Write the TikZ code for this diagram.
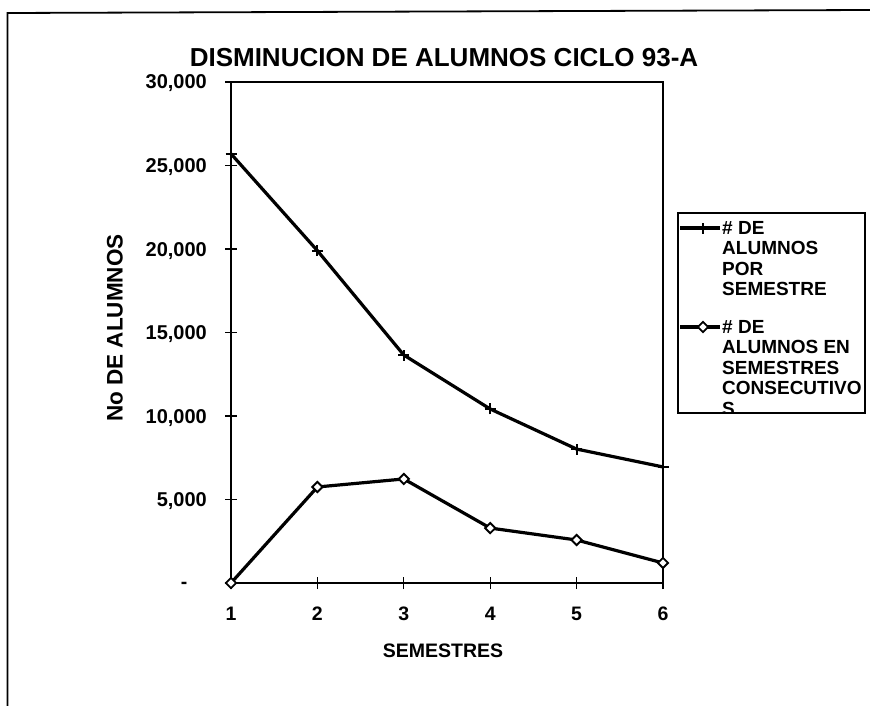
\documentclass[tikz,border=0pt]{standalone}
\usepackage{fontspec}
\setmainfont{Liberation Sans}
\usetikzlibrary{shapes.geometric}
\begin{document}
\begin{tikzpicture}[x=1pt,y=-1pt,
  every node/.style={inner sep=0pt},
  lbl/.style={font=\fontsize{19.5}{20}\selectfont\bfseries},
  ticklbl/.style={font=\fontsize{20}{20}\selectfont\bfseries, anchor=base east},
  catlbl/.style={lbl, anchor=base},
  titlelbl/.style={font=\fontsize{26}{28}\selectfont\bfseries, anchor=base},
  axtitle/.style={font=\fontsize{22.5}{23}\selectfont\bfseries},
  legtxt/.style={font=\fontsize{19}{20.5}\selectfont\bfseries, align=left, anchor=north west},
  frameline/.style={line width=1.8pt},
  tickline/.style={line width=1.3pt},
  dataline/.style={line width=3.2pt, line join=round},
  diam/.style={diamond, draw, fill=white, line width=1.9pt, minimum width=11pt, minimum height=11pt, inner sep=0pt},
  plusm/.pic={\draw[line width=1.9pt] (-5.5pt,0pt) -- (5.5pt,0pt) (0pt,-5.5pt) -- (0pt,5.5pt);}
]
\useasboundingbox (0,0) rectangle (870,706);
% outer frame
\coordinate (fTL) at (7.5,13);
\coordinate (fTR) at (870,10);
\coordinate (fBL) at (7.5,706);
\draw[frameline] (fBL) -- (fTL) -- (fTR);
% title
\node[titlelbl] (title) at (444,67) {DISMINUCION DE ALUMNOS CICLO 93-A};
% axis titles
\node[axtitle, rotate=90] (ytitle) at (115,328) {No DE ALUMNOS};
\node[lbl, anchor=base] (xtitle) at (443,657) {SEMESTRES};
% plot
\begin{scope}[shift={(231,583)}, x=86.4pt, y=16.7pt]
  \coordinate (pBL) at (0,0);
  \coordinate (pTR) at (5,30);
  \draw[frameline] (pBL) rectangle (pTR);
  \foreach \v in {0,5,...,30} {
    \draw[tickline] ([xshift=-6pt]0,\v) -- ([xshift=6pt]0,\v);
  }
  \foreach \i in {0,...,5} {
    \draw[tickline] ([yshift=-6pt]\i,0) -- ([yshift=6pt]\i,0);
  }
  % y tick labels
  \node[ticklbl] (y30) at ([xshift=-24pt,yshift=-7pt]0,30) {30,000};
  \node[ticklbl] (y25) at ([xshift=-24pt,yshift=-7pt]0,25) {25,000};
  \node[ticklbl] (y20) at ([xshift=-24pt,yshift=-7pt]0,20) {20,000};
  \node[ticklbl] (y15) at ([xshift=-24pt,yshift=-7pt]0,15) {15,000};
  \node[ticklbl] (y10) at ([xshift=-24pt,yshift=-7pt]0,10) {10,000};
  \node[ticklbl] (y5)  at ([xshift=-24pt,yshift=-7pt]0,5)  {5,000};
  \node[lbl, anchor=base] (y0) at ([xshift=-47pt,yshift=-5.5pt]0,0) {-};
  % x tick labels
  \foreach \i in {1,...,6} {
    \node[catlbl] (x\i) at ([yshift=-37pt]\i-1,0) {\i};
  }
  % data series 1
  \coordinate (a1) at (0,25.7);
  \coordinate (a2) at (1,19.9);
  \coordinate (a3) at (2,13.65);
  \coordinate (a4) at (3,10.42);
  \coordinate (a5) at (4,8.02);
  \coordinate (a6) at (5,6.95);
  % data series 2
  \coordinate (b1) at (0,0);
  \coordinate (b2) at (1,5.75);
  \coordinate (b3) at (2,6.23);
  \coordinate (b4) at (3,3.29);
  \coordinate (b5) at (4,2.575);
  \coordinate (b6) at (5,1.2);
  \draw[dataline] (a1) -- (a2) -- (a3) -- (a4) -- (a5) -- (a6);
  \draw[dataline] (b1) -- (b2) -- (b3) -- (b4) -- (b5) -- (b6);
  \foreach \k in {1,...,6} {
    \pic at (a\k) {plusm};
    \node[diam] (bm\k) at (b\k) {};
  }
\end{scope}
% legend
\coordinate (lTL) at (678,213);
\coordinate (lBR) at (865,413);
\draw[frameline] (lTL) rectangle (lBR);
\coordinate (l1a) at (680,228);
\coordinate (l1b) at (720,228);
\coordinate (l2a) at (680,327);
\coordinate (l2b) at (720,327);
\draw[dataline] (l1a) -- (l1b);
\pic at (703,228) {plusm};
\draw[dataline] (l2a) -- (l2b);
\node[diam] (lm2) at (703,327) {};
\begin{scope}
  \clip (lTL) rectangle (lBR);
  \node[legtxt] (leg1) at (722,221) {\# DE\\ALUMNOS\\POR\\SEMESTRE};
  \node[legtxt] (leg2) at (722,320) {\# DE\\ALUMNOS EN\\SEMESTRES\\CONSECUTIVO\\S};
\end{scope}
\end{tikzpicture}
\end{document}
